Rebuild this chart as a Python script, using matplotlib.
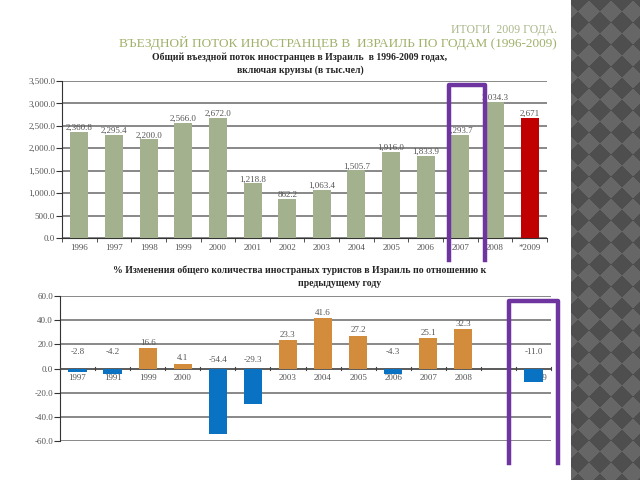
import numpy as np
import matplotlib
matplotlib.use("Agg")
import matplotlib.pyplot as plt
from matplotlib.lines import Line2D

plt.rcParams['font.family'] = ['Liberation Serif', 'DejaVu Serif']

# top chart: inbound flow, thousands of people
years_top = ["1996", "1997", "1998", "1999", "2000", "2001", "2002", "2003",
             "2004", "2005", "2006", "2007", "2008", "*2009"]
visitors = [2360.8, 2295.4, 2200.0, 2566.0, 2672.0, 1218.8, 862.2, 1063.4,
            1505.7, 1916.0, 1833.9, 2293.7, 3034.3, 2671.0]
visitor_labels = ["2,360.8", "2,295.4", "2,200.0", "2,566.0", "2,672.0", "1,218.8",
                  "862.2", "1,063.4", "1,505.7", "1,916.0", "1,833.9", "2,293.7",
                  "3,034.3", "2,671"]

# bottom chart: % change vs previous year (None = empty slot)
years_bot = ["1997", "1991", "1999", "2000", "2001", "2002", "2003", "2004",
             "2005", "2006", "2007", "2008", "", "2009"]
change = [-2.8, -4.2, 16.6, 4.1, -54.4, -29.3, 23.3, 41.6, 27.2, -4.3, 25.1,
          32.3, None, -11.0]

fig = plt.figure(figsize=(6.4, 4.8), dpi=100)
fig.patch.set_facecolor("white")

# decorative checker strip on the right
strip = fig.add_axes([571 / 640, 0, 69 / 640, 1])
yy, xx = np.mgrid[0:480, 0:69]
p = 22
pat = ((np.floor((xx + yy + 4) / p) + np.floor((xx - yy + 4) / p)) % 2)
strip.imshow(pat, cmap=matplotlib.colors.ListedColormap(["#4e4e4e", "#666666"]),
             aspect="auto", interpolation="nearest")
strip.axis("off")

# titles
fig.text(557 / 640, 1 - 30 / 480, "ИТОГИ  2009 ГОДА.", ha="right", va="center",
         fontsize=8.5, color="#a9b78a")
fig.text(557 / 640, 1 - 43 / 480, "ВЪЕЗДНОЙ ПОТОК ИНОСТРАНЦЕВ В  ИЗРАИЛЬ ПО ГОДАМ (1996-2009)",
         ha="right", va="center", fontsize=9.5, color="#a0b16a")
fig.text(300 / 640, 1 - 57 / 480, "Общий въездной поток иностранцев в Израиль  в 1996-2009 годах,",
         ha="center", va="center", fontsize=7, fontweight="bold", color="#222222")
fig.text(300 / 640, 1 - 70 / 480, "включая круизы (в тыс.чел)",
         ha="center", va="center", fontsize=7, fontweight="bold", color="#222222")
fig.text(300 / 640, 1 - 270 / 480,
         "% Изменения общего количества иностраных туристов в Израиль по отношению к",
         ha="center", va="center", fontsize=7, fontweight="bold", color="#222222")
fig.text(340 / 640, 1 - 283 / 480, "предыдущему году",
         ha="center", va="center", fontsize=7, fontweight="bold", color="#222222")

grid_col = "#7f7f7f"
txt_col = "#555555"

# ---- top chart
ax1 = fig.add_axes([62 / 640, 1 - 238 / 480, 485 / 640, 157 / 480])
x1 = np.arange(len(years_top))
cols = ["#a3b18e"] * (len(years_top) - 1) + ["#c00000"]
ax1.bar(x1, visitors, width=0.52, color=cols, zorder=3)
for xi, v, lab in zip(x1, visitors, visitor_labels):
    ax1.annotate(lab, (xi, v), xytext=(0, 0), textcoords="offset points",
                 ha="center", va="bottom", fontsize=6.5, color=txt_col, zorder=4)
ax1.set_xlim(-0.5, len(years_top) - 0.5)
ax1.set_ylim(0, 3500)
ax1.set_yticks(np.arange(0, 3501, 500))
ax1.set_yticklabels(["{:,.1f}".format(t) for t in np.arange(0, 3501, 500)])
ax1.yaxis.grid(True, color=grid_col, lw=1.3, zorder=0)
ax1.set_xticks(x1)
ax1.set_xticklabels(years_top)
ax1.set_xticks(np.arange(-0.5, len(years_top)), minor=True)
ax1.tick_params(axis="x", which="major", length=0, labelsize=6.5, labelcolor=txt_col, pad=4)
ax1.tick_params(axis="x", which="minor", length=3, color="#333333", direction="out")
ax1.tick_params(axis="y", length=4, color="#333333", labelsize=6.5, labelcolor=txt_col, pad=1)
for s in ["top", "right"]:
    ax1.spines[s].set_visible(False)
ax1.spines["left"].set_color("#333333")
ax1.spines["bottom"].set_color("#333333")

# ---- bottom chart
ax2 = fig.add_axes([60 / 640, 1 - 441 / 480, 491 / 640, 145 / 480])
x2 = np.arange(len(years_bot))
for xi, v in zip(x2, change):
    if v is None:
        continue
    c = "#d38c3b" if v > 0 else "#0a72c2"
    ax2.bar(xi, v, width=0.52, color=c, zorder=3)
    if v > 0:
        ax2.annotate("{:.1f}".format(v), (xi, v), xytext=(0, 1), textcoords="offset points",
                     ha="center", va="bottom", fontsize=6.5, color=txt_col, zorder=4)
    else:
        ly = 4 if v < -20 else 10
        ax2.text(xi, ly, "{:.1f}".format(v), ha="center", va="bottom",
                 fontsize=6.5, color=txt_col, zorder=4)
for xi, lab in zip(x2, years_bot):
    # last label sits a bit right of its bar, as in the original
    dx = 0.15 if lab == "2009" else 0
    ax2.text(xi + dx, -4.5, lab, ha="center", va="top", fontsize=6.5, color=txt_col, zorder=2)
ax2.set_xlim(-0.5, len(years_bot) - 0.5)
ax2.set_ylim(-60, 60)
ax2.set_yticks(np.arange(-60, 61, 20))
ax2.set_yticklabels(["{:.1f}".format(t) for t in np.arange(-60, 61, 20)])
ax2.yaxis.grid(True, color=grid_col, lw=1.3, zorder=0)
ax2.axhline(0, color="#555555", lw=1.2, zorder=2.5)
ax2.set_xticks([])
for xb in np.arange(-0.5, len(years_bot)):
    ax2.plot([xb, xb], [-1.2, 1.2], color="#444444", lw=0.8, zorder=2.6, clip_on=False)
ax2.tick_params(axis="y", length=4, color="#333333", labelsize=6.5, labelcolor=txt_col, pad=1)
for s in ["top", "right", "bottom"]:
    ax2.spines[s].set_visible(False)
ax2.spines["left"].set_color("#333333")

# purple highlight frames (open at bottom)
purple = "#6e35a0"
for (l, r, t, b) in [(449, 485, 85, 260), (509, 558, 301, 463)]:
    fx = [l / 640, l / 640, r / 640, r / 640]
    fy = [1 - b / 480, 1 - t / 480, 1 - t / 480, 1 - b / 480]
    fig.add_artist(Line2D(fx, fy, color=purple, lw=3.2, zorder=10))

fig.savefig("out.png", dpi=100)
